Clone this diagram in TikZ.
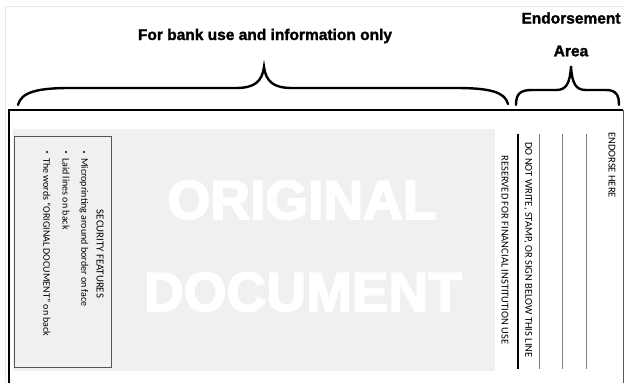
\documentclass[tikz,border=0pt]{standalone}
\usepackage{fontspec}
\setmainfont{Carlito}
\newfontfamily\hv{Liberation Sans}
\newfontfamily\hvheavy{Liberation Sans Bold}[FakeBold=1.6]
\newfontfamily\hvblack{Liberation Sans Bold}[FakeBold=3]
\definecolor{wmgray}{HTML}{F0F0F0}
\definecolor{boxedge}{HTML}{555555}
\begin{document}
\begin{tikzpicture}[x=1pt,y=-1pt,
  brace/.style={line width=2.4pt,line cap=round},
  title/.style={font=\hvheavy\fontsize{15.5}{16}\selectfont,inner sep=0pt},
  wmark/.style={font=\hvblack\fontsize{55}{56}\selectfont,text=white,inner sep=0pt},
  vtext/.style={rotate=-90,inner sep=0pt,font=\fontsize{10.5}{10.5}\selectfont},
  vitem/.style={rotate=-90,inner sep=0pt,anchor=west,font=\fontsize{10}{10}\selectfont},
  bul/.style={circle,fill=black,inner sep=0pt,minimum size=2.4pt},
  sigline/.style={draw=gray,line width=0.9pt},
]
\useasboundingbox (0,0) rectangle (624,383);
% faint image frame
\draw[gray!18,line width=0.6pt] (5,383) -- (5,6) -- (624,6);
% titles
\node[title] (bank) at (265,36) {For bank use and information only};
\node[title] (endo) at (571,18) {Endorsement};
\node[title] (area) at (571,51) {Area};
% braces
\draw[brace] (18,105) .. controls (21,92) and (38,88) .. (70,88) -- (236,88)
  .. controls (254,88) and (262,82) .. (264,67)
  .. controls (266,82) and (274,88) .. (292,88) -- (456,88)
  .. controls (490,88) and (505,92) .. (508,104);
\draw[brace] (516,105) .. controls (516,94) and (520,90) .. (532,90) -- (556,90)
  .. controls (566,90) and (570,84) .. (571,66)
  .. controls (572,84) and (576,90) .. (586,90) -- (606,90)
  .. controls (616,90) and (619,95) .. (619,105);
% outer frame
\draw[line width=1.8pt] (9,383) -- (9,110) -- (623,110);
\draw[gray!70!black,line width=1pt] (623,110) -- (623,383);
% watermark area
\fill[wmgray] (13,129) rectangle (495,371);
\draw[boxedge,line width=0.9pt,fill=wmgray] (14,136) rectangle (111,367);
\node[wmark] (orig) at (302,200) {ORIGINAL};
\node[wmark] (doc) at (303,292) {DOCUMENT};
% security features
\node[vtext,font=\fontsize{10.8}{10.8}\selectfont] (sec) at (100,254) {SECURITY FEATURES};
\node[bul] (b1) at (84,152) {};
\node[bul] (b2) at (66,152) {};
\node[bul] (b3) at (47,152) {};
\node[vitem] (i1) at (84,158) {Microprinting around border on face};
\node[vitem] (i2) at (66,158) {Laid lines on back};
\node[vitem] (i3) at (47,158) {The words ``ORIGINAL DOCUMENT'' on back};
% endorsement area
\node[vtext] (res) at (505,250) {RESERVED FOR FINANCIAL INSTITUTION USE};
\draw[line width=2.2pt] (518,134) -- (518,369);
\node[vtext] (dnw) at (528,250) {DO NOT WRITE, STAMP, OR SIGN BELOW THIS LINE};
\draw[sigline] (539,134) -- (539,369);
\draw[sigline] (562,134) -- (562,369);
\draw[sigline] (586,134) -- (586,369);
\node[vtext,anchor=west] (eh) at (612,132) {ENDORSE HERE};
\end{tikzpicture}
\end{document}
